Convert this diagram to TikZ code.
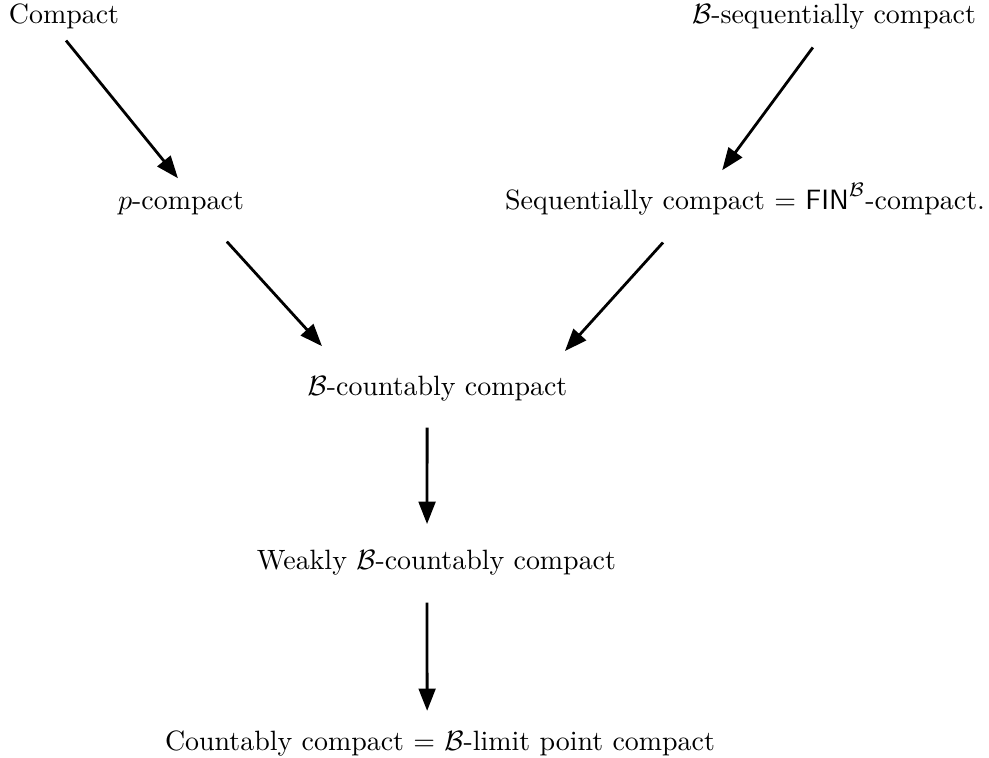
\documentclass[tikz,border=0pt]{standalone}
\usepackage{amsmath,amssymb}
\usepackage{tikz}
\usetikzlibrary{arrows.meta,positioning}
\definecolor{InkBlack}{HTML}{000000}

\begin{document}
\begin{tikzpicture}[x=0.358pt,y=-0.358pt,
    prop/.style={inner sep=0pt,anchor=base,text height=7pt,text depth=2pt,text=InkBlack},
    impl/.style={draw=InkBlack,line width=1pt,-{Triangle[length=8pt,width=6pt]}}]
  \useasboundingbox (0,0) rectangle (989,758);
  % top row
  \node[prop] (cmp)  at (64,24)  {Compact};
  \node[prop] (bseq) at (834,24) {$\mathcal{B}$-sequentially compact};
  % second row
  \node[prop] (pc)   at (181,209) {$p$-compact};
  \node[prop] (seq)  at (745,209) {Sequentially compact $=$ $\mathsf{FIN}^{\mathcal{B}}$-compact.};
  % chain down the middle
  \node[prop] (bc)   at (437.5,395) {$\mathcal{B}$-countably compact};
  \node[prop] (wk)   at (436.5,569) {Weakly $\mathcal{B}$-countably compact};
  \node[prop] (cc)   at (440,750)   {Countably compact $=$ $\mathcal{B}$-limit point compact};

  \draw[impl,shorten <=4.8pt,shorten >=4.9pt]
    ([xshift=-2.3pt]cmp.south) -- ([xshift=2pt]pc.north);
  \draw[impl,shorten <=7.7pt,shorten >=8.3pt]
    ([xshift=-3pt]bseq.south) -- ([xshift=-13.1pt]seq.north);
  \draw[impl,shorten <=12.8pt,shorten >=13.9pt]
    ([xshift=7.8pt]pc.south) -- ([xshift=-32pt]bc.north);
  \draw[impl,shorten <=13.2pt,shorten >=11.5pt]
    ([xshift=-20.5pt]seq.south) -- ([xshift=37.9pt]bc.north);
  \draw[impl,shorten <=9.5pt,shorten >=8.9pt]
    ([xshift=-3.7pt]bc.south) -- ([xshift=-3.4pt]wk.north);
  \draw[impl,shorten <=9.8pt,shorten >=6.8pt]
    ([xshift=-3.4pt]wk.south) -- ([xshift=-4.6pt]cc.north);
\end{tikzpicture}
\end{document}
